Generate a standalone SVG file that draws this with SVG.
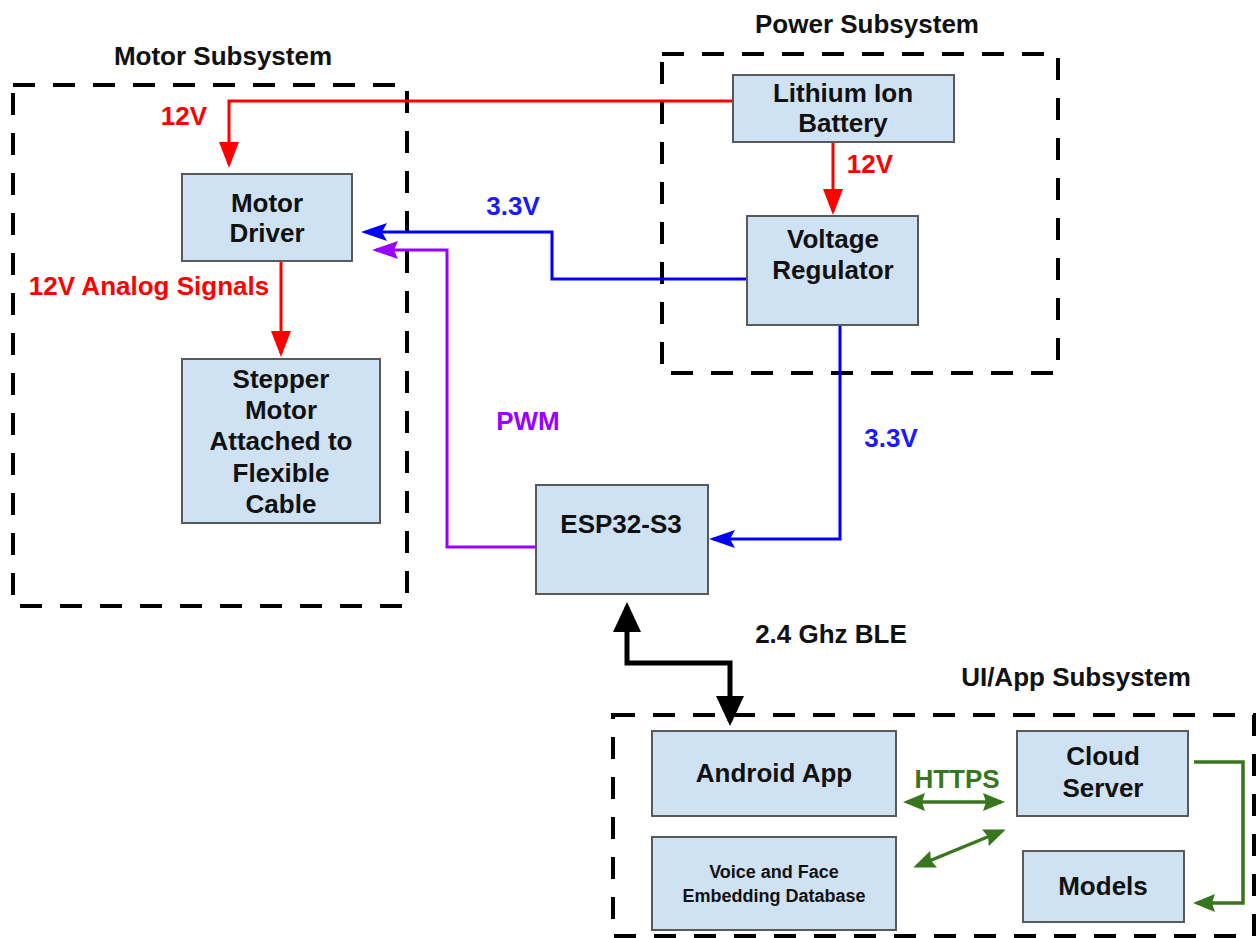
<svg xmlns="http://www.w3.org/2000/svg" width="1258" height="938" viewBox="0 0 1258 938">
  <style>
    text { font-family: "Liberation Sans", Arial, sans-serif; font-weight: bold; text-anchor: middle; }
    .t { font-size: 26px; fill: #111; }
    .small { font-size: 18px; fill: #111; }
    .node rect { fill: #cfe2f3; stroke: #595959; stroke-width: 2; }
    .group { fill: none; stroke: #000; stroke-width: 4; stroke-dasharray: 22 18; }
    .red { fill: none; stroke: #ff0000; stroke-width: 3; }
    .blue { fill: none; stroke: #0000ff; stroke-width: 3; }
    .purple { fill: none; stroke: #9900ff; stroke-width: 3; }
    .green { fill: none; stroke: #38761d; stroke-width: 3.5; }
    .black { fill: none; stroke: #000; stroke-width: 5; }
    .lred { fill: #ff0000; } .lblue { fill: #1a1aff; } .lpurple { fill: #9900ff; } .lgreen { fill: #38761d; } .lblack { fill: #111; }
  </style>
  <defs>
    <marker id="arrRed" markerUnits="userSpaceOnUse" viewBox="0 0 26 20" refX="22" refY="10" markerWidth="26" markerHeight="20" orient="auto">
      <path d="M0,0 L26,10 L0,20 z" fill="#ff0000"/>
    </marker>
    <marker id="arrBlue" markerUnits="userSpaceOnUse" viewBox="0 0 26 20" refX="22" refY="10" markerWidth="26" markerHeight="20" orient="auto">
      <path d="M0,1 L26,10 L0,19 L5,10 z" fill="#0000ff"/>
    </marker>
    <marker id="arrPurple" markerUnits="userSpaceOnUse" viewBox="0 0 26 20" refX="22" refY="10" markerWidth="26" markerHeight="20" orient="auto">
      <path d="M0,1 L26,10 L0,19 L4,10 z" fill="#9900ff"/>
    </marker>
    <marker id="arrGreen" markerUnits="userSpaceOnUse" viewBox="0 0 22 18" refX="18" refY="9" markerWidth="22" markerHeight="18" orient="auto-start-reverse">
      <path d="M0,0 L22,9 L0,18 L3,9 z" fill="#38761d"/>
    </marker>
    <marker id="arrBlack" markerUnits="userSpaceOnUse" viewBox="0 0 30 28" refX="25" refY="14" markerWidth="30" markerHeight="28" orient="auto-start-reverse">
      <path d="M0,0 L30,14 L0,28 z" fill="#000"/>
    </marker>
  </defs>

  <!-- subsystem frames -->
  <g id="motor-subsystem">
    <rect class="group" x="13" y="85" width="394" height="521"/>
    <text class="t" x="223" y="65">Motor Subsystem</text>
  </g>
  <g id="power-subsystem">
    <rect class="group" x="662" y="54" width="396" height="319"/>
    <text class="t" x="867" y="33">Power Subsystem</text>
  </g>
  <g id="ui-subsystem">
    <rect class="group" x="613" y="715" width="641" height="221"/>
    <text class="t" x="1076" y="686">UI/App Subsystem</text>
  </g>

  <!-- connectors -->
  <g id="connectors">
    <path class="red" d="M733,101 H229 V164" marker-end="url(#arrRed)"/>
    <path class="red" d="M833,142 V211" marker-end="url(#arrRed)"/>
    <path class="red" d="M281,261 V353" marker-end="url(#arrRed)"/>
    <path class="blue" d="M747,279 H552 V232 H365" marker-end="url(#arrBlue)"/>
    <path class="blue" d="M840,325 V539 H713" marker-end="url(#arrBlue)"/>
    <path class="purple" d="M536,547 H447 V250 H376" marker-end="url(#arrPurple)"/>
    <path class="black" d="M627,607 V663 H730 V721" marker-start="url(#arrBlack)" marker-end="url(#arrBlack)"/>
    <path class="green" d="M907,802 H1001" marker-start="url(#arrGreen)" marker-end="url(#arrGreen)"/>
    <path class="green" d="M917,866 L1002,831" marker-start="url(#arrGreen)" marker-end="url(#arrGreen)"/>
    <path class="green" d="M1194,762 H1243 V903 H1197" marker-end="url(#arrGreen)"/>

    <text class="t lred" x="184" y="125">12V</text>
    <text class="t lred" x="870" y="173">12V</text>
    <text class="t lred" x="149" y="295">12V Analog Signals</text>
    <text class="t lblue" x="513" y="215">3.3V</text>
    <text class="t lblue" x="891" y="447">3.3V</text>
    <text class="t lpurple" x="528" y="430">PWM</text>
    <text class="t lblack" x="831" y="643">2.4 Ghz BLE</text>
    <text class="t lgreen" x="957" y="788">HTTPS</text>
  </g>

  <!-- nodes -->
  <g id="motor-driver" class="node">
    <rect x="182" y="174" width="170" height="87"/>
    <text class="t" x="267" y="212">Motor</text>
    <text class="t" x="267" y="242">Driver</text>
  </g>
  <g id="stepper-motor" class="node">
    <rect x="182" y="359" width="198" height="164"/>
    <text class="t" x="281" y="388">Stepper</text>
    <text class="t" x="281" y="419">Motor</text>
    <text class="t" x="281" y="450">Attached to</text>
    <text class="t" x="281" y="482">Flexible</text>
    <text class="t" x="281" y="513">Cable</text>
  </g>
  <g id="battery" class="node">
    <rect x="733" y="75" width="221" height="67"/>
    <text class="t" x="843" y="102">Lithium Ion</text>
    <text class="t" x="843" y="132">Battery</text>
  </g>
  <g id="regulator" class="node">
    <rect x="747" y="216" width="171" height="109"/>
    <text class="t" x="833" y="248">Voltage</text>
    <text class="t" x="833" y="279">Regulator</text>
  </g>
  <g id="esp32" class="node">
    <rect x="536" y="485" width="172" height="109"/>
    <text class="t" x="621" y="533">ESP32-S3</text>
  </g>
  <g id="android-app" class="node">
    <rect x="652" y="731" width="244" height="85"/>
    <text class="t" x="774" y="782">Android App</text>
  </g>
  <g id="embedding-db" class="node">
    <rect x="652" y="837" width="244" height="93"/>
    <text class="small" x="774" y="878">Voice and Face</text>
    <text class="small" x="774" y="902">Embedding Database</text>
  </g>
  <g id="cloud-server" class="node">
    <rect x="1017" y="731" width="171" height="85"/>
    <text class="t" x="1103" y="765">Cloud</text>
    <text class="t" x="1103" y="797">Server</text>
  </g>
  <g id="models" class="node">
    <rect x="1023" y="851" width="161" height="71"/>
    <text class="t" x="1103" y="895">Models</text>
  </g>
</svg>
